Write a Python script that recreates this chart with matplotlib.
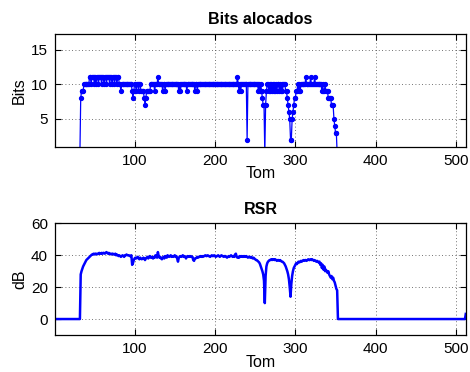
import numpy as np
import matplotlib
matplotlib.use("Agg")
import matplotlib.pyplot as plt

plt.rcParams["font.family"] = ["Liberation Sans", "DejaVu Sans"]

N_TONES = 512
FIRST_ACTIVE = 33  # first loaded tone

# bits per tone, tones 33..351 (all other tones carry 0 bits)
bits_active = [
    8, 9, 9, 9, 10, 10, 10, 10, 10, 10,
    10, 11, 11, 10, 11, 11, 11, 10, 11, 10,
    11, 11, 10, 11, 11, 11, 10, 11, 11, 10,
    11, 11, 10, 11, 11, 11, 10, 11, 11, 10,
    11, 11, 10, 11, 11, 10, 11, 11, 10, 10,
    9, 10, 10, 10, 10, 10, 10, 10, 10, 10,
    10, 10, 10, 10, 9, 8, 9, 10, 10, 9,
    10, 10, 9, 10, 10, 9, 9, 9, 9, 8,
    7, 8, 9, 9, 9, 9, 9, 10, 10, 10,
    10, 10, 9, 10, 10, 10, 11, 10, 10, 10,
    10, 10, 9, 10, 10, 9, 10, 10, 10, 10,
    10, 10, 10, 10, 10, 10, 10, 10, 10, 10,
    10, 10, 9, 10, 9, 10, 10, 10, 10, 10,
    10, 10, 9, 10, 10, 10, 10, 10, 10, 10,
    10, 10, 9, 10, 10, 9, 10, 10, 10, 10,
    10, 10, 10, 10, 10, 10, 10, 10, 10, 10,
    10, 10, 10, 10, 10, 10, 10, 10, 10, 10,
    10, 10, 10, 10, 10, 10, 10, 10, 10, 10,
    10, 10, 10, 10, 10, 10, 10, 10, 10, 10,
    10, 10, 10, 10, 10, 11, 10, 9, 10, 9,
    10, 10, 10, 10, 10, 10, 10, 2, 10, 10,
    10, 10, 10, 10, 10, 10, 10, 10, 10, 10,
    10, 9, 10, 9, 10, 9, 8, 7, 7, 0,
    7, 9, 10, 10, 9, 10, 9, 10, 9, 10,
    9, 10, 9, 10, 9, 10, 10, 9, 10, 9,
    10, 9, 10, 10, 10, 9, 9, 8, 7, 6,
    5, 2, 2, 5, 6, 7, 8, 8, 9, 9,
    10, 9, 10, 9, 10, 10, 10, 10, 10, 10,
    11, 10, 10, 10, 10, 10, 11, 10, 10, 10,
    10, 11, 10, 10, 10, 10, 10, 10, 10, 10,
    9, 10, 9, 9, 10, 9, 9, 9, 8, 8,
    8, 8, 7, 7, 7, 5, 4, 3, 3,
]

# RSR in dB, tones 33..352 (0 dB elsewhere, except last tone)
rsr_active = [
    28, 30, 31.5, 33, 34, 35, 36, 37, 37.5, 38,
    38.5, 39, 39.5, 40, 40.5, 40.5, 41, 40.5, 41, 41,
    40.5, 41, 41, 41.5, 41, 41, 41.5, 41, 41.5, 41.5,
    41, 41.5, 42, 41.5, 41, 41.5, 41, 41, 40.5, 41,
    41, 40.5, 40.5, 41, 40, 40.5, 40, 39.5, 40, 39.5,
    39, 39.5, 40, 39.5, 39, 40, 40, 40.5, 40, 40,
    40, 39.5, 39.5, 40, 34, 35, 37, 38, 38.5, 38,
    38.5, 39, 38, 37.5, 38.5, 38, 37.5, 38, 38.5, 38,
    37, 38, 38.5, 39, 38, 39, 39.5, 38.5, 39, 38.5,
    38, 39, 38.5, 40, 39, 38.5, 42, 39.5, 38.5, 39,
    38, 37.5, 38.5, 39, 38, 39.5, 39, 38.5, 40, 39.5,
    39, 39.5, 40, 39, 39.5, 39, 39.5, 40, 39, 39.5,
    38, 36, 38.5, 39, 39.5, 39, 39.5, 40, 39, 39.5,
    39, 38, 39, 39.5, 39, 39.5, 39, 39.5, 39, 39,
    37, 36.5, 38, 38, 38.5, 39, 38.5, 39, 39, 39.5,
    39, 39.5, 39, 39.5, 39.5, 40, 39.5, 39.5, 40, 39.5,
    39.5, 39, 39.5, 40, 39.5, 39.5, 40, 39.5, 39, 39.5,
    39.5, 40, 39.5, 39, 39.5, 40, 39.5, 39.5, 39, 39.5,
    39.5, 39, 38.5, 39, 39.5, 39, 39.5, 40, 39.5, 39,
    39.5, 39, 40.5, 41, 39, 38.5, 39, 38.5, 39.5, 39,
    39.5, 39, 39.5, 39, 39.5, 39, 39.5, 39, 38.5, 39,
    39, 38.5, 39, 38.5, 38, 38.5, 38, 37.5, 37, 37,
    36.5, 36, 35.5, 34.5, 33, 31.5, 30, 28, 24, 10,
    27, 33, 35, 36, 36.5, 37, 37, 37.5, 37, 37.5,
    37.5, 37, 37.5, 37, 36.5, 37, 37, 36.5, 37, 36.5,
    36, 36, 35.5, 35, 34, 33, 31.5, 30, 28, 25,
    20, 14, 22, 27, 30, 32, 33, 34, 35, 34.5,
    35.5, 36, 35.5, 36, 36.5, 36, 36.5, 37, 36.5, 37,
    37, 36.5, 37, 37.5, 37, 37, 37.5, 37, 37.5, 37,
    36.5, 37, 36.5, 36, 36.5, 36, 35.5, 36, 34, 35,
    32, 34, 31, 33, 30, 31, 30, 29, 30, 28,
    27, 26, 27, 25, 26, 24, 23, 21, 19, 18,
]
rsr_last_tone = 3.2

tones = np.arange(1, N_TONES + 1)
bits = np.zeros(N_TONES)
bits[FIRST_ACTIVE - 1:FIRST_ACTIVE - 1 + len(bits_active)] = bits_active
rsr = np.zeros(N_TONES)
rsr[FIRST_ACTIVE - 1:FIRST_ACTIVE - 1 + len(rsr_active)] = rsr_active
rsr[-1] = rsr_last_tone

blue = (0, 0, 1)


def style_axes(ax):
    ax.set_xlim(1, N_TONES)
    ax.set_xticks([100, 200, 300, 400, 500])
    ax.tick_params(direction="in", length=4, width=0.8, top=True, right=True,
                   labelsize=11, pad=5)
    ax.grid(True, color="#444444", linestyle=(0, (1, 3)), linewidth=0.6)
    for s in ax.spines.values():
        s.set_linewidth(0.9)
    ax.set_xlabel("Tom", fontsize=11.5, labelpad=-1)


fig = plt.figure(figsize=(4.7, 3.72), dpi=100)

ax1 = fig.add_axes([0.117, 0.606, 0.874, 0.303])
ax1.plot(tones, bits, "-", color=blue, linewidth=0.9, marker="o", markersize=2.8)
ax1.set_ylim(1, 17.3)
ax1.set_yticks([5, 10, 15])
ax1.set_ylabel("Bits", fontsize=11.5, labelpad=3)
ax1.set_title("Bits alocados", fontsize=11.5, fontweight="bold", pad=7)
style_axes(ax1)

ax2 = fig.add_axes([0.117, 0.0995, 0.874, 0.300])
ax2.plot(tones, rsr, "-", color=blue, linewidth=1.8)
ax2.set_ylim(-10, 60)
ax2.set_yticks([0, 20, 40, 60])
ax2.set_ylabel("dB", fontsize=11.5, labelpad=3)
ax2.set_title("RSR", fontsize=11.5, fontweight="bold", pad=7)
style_axes(ax2)

fig.savefig("out.png", dpi=100)
